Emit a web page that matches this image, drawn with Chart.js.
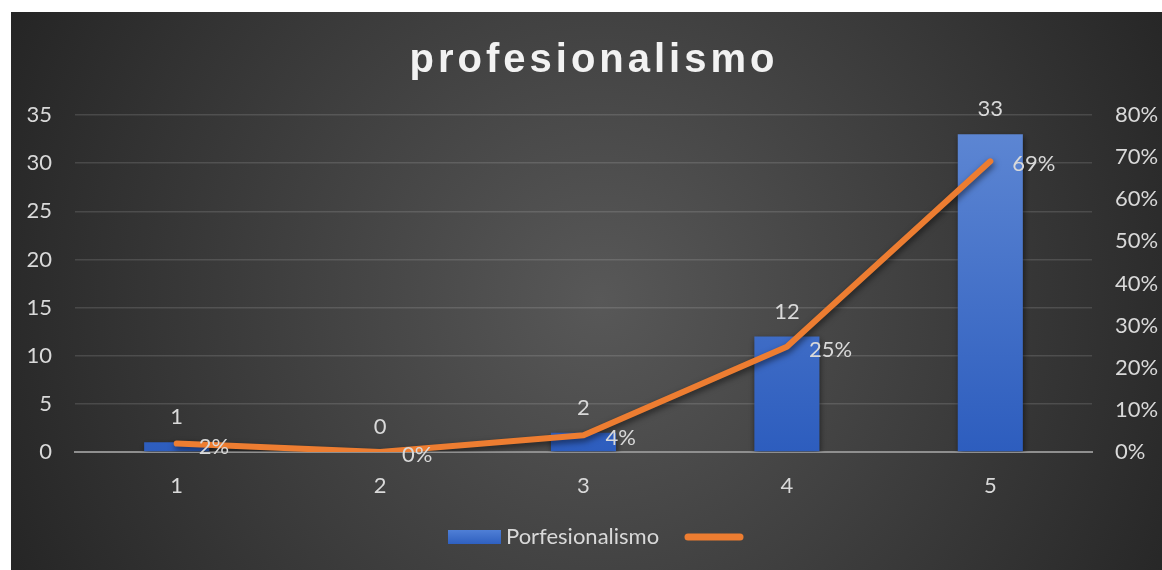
<!DOCTYPE html>
<html>
<head>
<meta charset="utf-8">
<title>profesionalismo</title>
<script src="https://cdn.jsdelivr.net/npm/chart.js@4.4.0/dist/chart.umd.min.js"></script>
<style>
  html, body { margin: 0; padding: 0; background: #ffffff; }
  #wrap { width: 1162px; height: 570px; }
</style>
</head>
<body>
<div id="wrap"><canvas id="myChart" width="1162" height="570"></canvas></div>
<script>
// categorías y valores
const categories = ['1', '2', '3', '4', '5'];
const counts = [1, 0, 2, 12, 33];
const percents = [2, 0, 4, 25, 69];
const barLabel = 'Porfesionalismo';
const lineLabel = '';
const titleText = 'profesionalismo';

const textColor = '#d9d9d9';
const fontFamily = 'Lato, "Open Sans", sans-serif';
const fontSize = 22;

// fondo oscuro con degradado radial
const backgroundPlugin = {
    id: 'fondo',
    beforeDraw(chart) {
        const ctx = chart.ctx;
        ctx.save();
        ctx.fillStyle = '#ffffff';
        ctx.fillRect(0, 0, chart.width, chart.height);
        const g = ctx.createRadialGradient(600, 300, 0, 600, 300, 680);
        g.addColorStop(0, '#585858');
        g.addColorStop(1, '#232323');
        ctx.fillStyle = g;
        ctx.fillRect(11, 12, chart.width - 11, chart.height - 12);
        ctx.restore();
    }
};

// título con espaciado entre letras
const titlePlugin = {
    id: 'titulo',
    afterDraw(chart) {
        const ctx = chart.ctx;
        ctx.save();
        ctx.font = 'bold 40px "Liberation Sans", Arial, sans-serif';
        ctx.letterSpacing = '4px';
        ctx.fillStyle = '#f2f2f2';
        ctx.textAlign = 'center';
        ctx.textBaseline = 'alphabetic';
        ctx.fillText(titleText, 594, 72);
        ctx.restore();
    }
};

// sombra para la línea
const shadowPlugin = {
    id: 'sombra',
    beforeDatasetDraw(chart, args) {
        const ctx = chart.ctx;
        ctx.save();
        ctx.shadowColor = 'rgba(0,0,0,0.55)';
        ctx.shadowBlur = 6;
        ctx.shadowOffsetY = 3;
        ctx.shadowOffsetX = 1;
    },
    afterDatasetDraw(chart) {
        chart.ctx.restore();
    }
};

// etiquetas de datos
const labelsPlugin = {
    id: 'etiquetas',
    afterDatasetsDraw(chart) {
        const ctx = chart.ctx;
        ctx.save();
        ctx.font = fontSize + 'px ' + fontFamily;
        ctx.fillStyle = textColor;
        ctx.textBaseline = 'middle';

        const bars = chart.getDatasetMeta(0).data;
        ctx.textAlign = 'center';
        bars.forEach((bar, i) => {
            ctx.fillText(String(counts[i]), bar.x, bar.y - 25);
        });

        const points = chart.getDatasetMeta(1).data;
        ctx.textAlign = 'left';
        points.forEach((pt, i) => {
            ctx.fillText(percents[i] + '%', pt.x + 22, pt.y + 3);
        });
        ctx.restore();
    }
};

// leyenda
const legendPlugin = {
    id: 'leyenda',
    afterDraw(chart) {
        const ctx = chart.ctx;
        ctx.save();
        const y = 537;
        const g = ctx.createLinearGradient(0, y - 7, 0, y + 7);
        g.addColorStop(0, '#4f7fd6');
        g.addColorStop(1, '#2f60c0');
        ctx.fillStyle = g;
        ctx.fillRect(448, y - 7, 53, 14);

        ctx.font = fontSize + 'px ' + fontFamily;
        ctx.fillStyle = textColor;
        ctx.textAlign = 'left';
        ctx.textBaseline = 'middle';
        ctx.fillText(barLabel, 506, y);

        ctx.strokeStyle = '#ED7D31';
        ctx.lineWidth = 7;
        ctx.lineCap = 'round';
        ctx.beginPath();
        ctx.moveTo(688, y);
        ctx.lineTo(740, y);
        ctx.stroke();
        ctx.restore();
    }
};

function barGradient(context) {
    const area = context.chart.chartArea;
    if (!area) return '#4472C4';
    const g = context.chart.ctx.createLinearGradient(0, area.top, 0, area.bottom);
    g.addColorStop(0, '#5f88d4');
    g.addColorStop(1, '#2d5dbe');
    return g;
}

const ctx = document.getElementById('myChart').getContext('2d');

const myChart = new Chart(ctx, {
    type: 'bar',
    data: {
        labels: categories,
        datasets: [
            {
                type: 'bar',
                label: barLabel,
                data: counts,
                yAxisID: 'y',
                backgroundColor: barGradient,
                borderWidth: 0,
                barPercentage: 0.32,
                categoryPercentage: 1,
                order: 1,
            },
            {
                type: 'line',
                label: lineLabel,
                data: percents,
                yAxisID: 'y1',
                borderColor: '#ED7D31',
                borderWidth: 6,
                borderCapStyle: 'round',
                borderJoinStyle: 'round',
                pointRadius: 0,
                tension: 0,
                fill: false,
                order: 0,
            },
        ],
    },
    options: {
        responsive: false,
        animation: false,
        layout: { padding: { top: 115, left: 0, right: 0, bottom: 0 } },
        plugins: {
            legend: { display: false },
            title: { display: false },
            tooltip: { enabled: false },
        },
        scales: {
            x: {
                grid: { display: false },
                border: { display: true, color: '#8f8f8f', width: 2 },
                ticks: {
                    color: textColor,
                    font: { family: fontFamily, size: fontSize },
                    padding: 13,
                },
                afterFit(scale) { scale.height = 118; },
            },
            y: {
                position: 'left',
                min: 0,
                max: 35,
                ticks: {
                    stepSize: 5,
                    color: textColor,
                    font: { family: fontFamily, size: fontSize },
                    padding: 23,
                },
                grid: {
                    color: (c) => c.tick && c.tick.value === 0 ? 'rgba(0,0,0,0)' : 'rgba(255,255,255,0.13)',
                    lineWidth: 1.5,
                    drawTicks: false,
                },
                border: { display: false },
                afterFit(scale) { scale.width = 75; },
            },
            y1: {
                position: 'right',
                min: 0,
                max: 80,
                ticks: {
                    stepSize: 10,
                    color: textColor,
                    font: { family: fontFamily, size: fontSize },
                    padding: 23,
                    callback: (v) => v + '%',
                },
                grid: { display: false, drawTicks: false },
                border: { display: false },
                afterFit(scale) { scale.width = 70; },
            },
        },
    },
    plugins: [backgroundPlugin, shadowPlugin, labelsPlugin, titlePlugin, legendPlugin],
});
</script>
</body>
</html>
